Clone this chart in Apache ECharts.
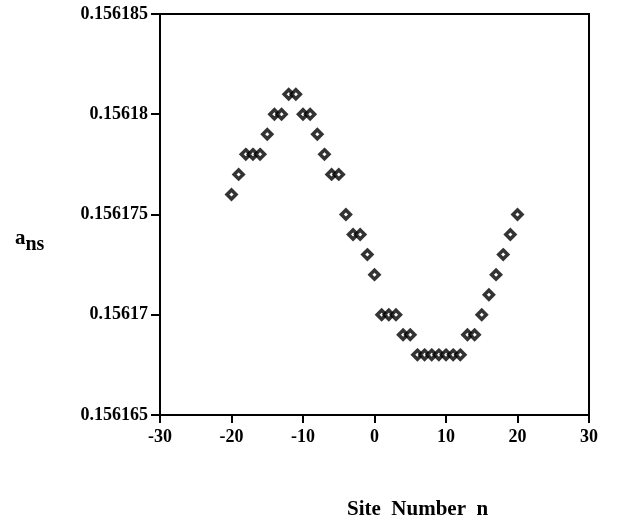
<!DOCTYPE html>
<html><head><meta charset="utf-8">
<script src="https://cdn.jsdelivr.net/npm/echarts@6/dist/echarts.min.js"></script>
<style>html,body{margin:0;padding:0;background:#fff}#c{width:620px;height:529px}</style>
</head><body><div id="c"></div>
<script>
const siteNumbers = [-20,-19,-18,-17,-16,-15,-14,-13,-12,-11,-10,-9,-8,-7,-6,-5,-4,-3,-2,-1,0,1,2,3,4,5,6,7,8,9,10,11,12,13,14,15,16,17,18,19,20];
const ansValues = [0.156176,0.156177,0.156178,0.156178,0.156178,0.156179,0.15618,0.15618,0.156181,0.156181,
  0.15618,0.15618,0.156179,0.156178,0.156177,0.156177,0.156175,0.156174,0.156174,0.156173,
  0.156172,0.15617,0.15617,0.15617,0.156169,0.156169,0.156168,0.156168,0.156168,0.156168,
  0.156168,0.156168,0.156168,0.156169,0.156169,0.15617,0.156171,0.156172,0.156173,0.156174,0.156175];
const xTicks = [-30,-20,-10,0,10,20,30];
const yTicks = ["0.156165","0.15617","0.156175","0.15618","0.156185"];

const font = '"Liberation Serif","Times New Roman",serif';
const chart = echarts.init(document.getElementById('c'));
chart.setOption({
  animation:false,
  grid:{left:160,right:31,top:14,bottom:114,show:true,borderColor:'#000',borderWidth:2,backgroundColor:'transparent'},
  xAxis:{type:'value',min:-30,max:30,interval:10,
    axisLine:{onZero:false,lineStyle:{color:'#000',width:2}},
    axisTick:{inside:false,length:8,lineStyle:{color:'#000',width:2}},
    splitLine:{show:false},
    axisLabel:{color:'#000',fontFamily:font,fontWeight:'bold',fontSize:18,margin:13,
      formatter:v=>String(xTicks.find(t=>Math.abs(t-v)<1e-9))}
  },
  yAxis:{type:'value',min:0.156165,max:0.156185,interval:0.000005,
    axisLine:{onZero:false,lineStyle:{color:'#000',width:2}},
    axisTick:{inside:false,length:9,lineStyle:{color:'#000',width:2}},
    splitLine:{show:false},
    axisLabel:{color:'#000',fontFamily:font,fontWeight:'bold',fontSize:18,margin:12,
      formatter:v=>{const k=Math.round((v-0.156165)/0.000005);return yTicks[k];}}
  },
  graphic:[
    {type:'text',left:15,top:228,style:{text:'{a|a}{s|ns}',rich:{a:{fontFamily:font,fontWeight:'bold',fontSize:21,fill:'#000'},s:{fontFamily:font,fontWeight:'bold',fontSize:20,fill:'#000',padding:[12,0,0,0]}}}},
    {type:'text',left:347,top:499,style:{text:'Site  Number  n',fontFamily:font,fontWeight:'bold',fontSize:21,fill:'#000'}}
  ],
  series:[{type:'scatter',data:siteNumbers.map((n,i)=>[n,ansValues[i]]),
    symbol:'diamond',symbolSize:9,
    itemStyle:{color:'#fff',borderColor:'#000',borderWidth:3.5}}]
});
</script></body></html>
